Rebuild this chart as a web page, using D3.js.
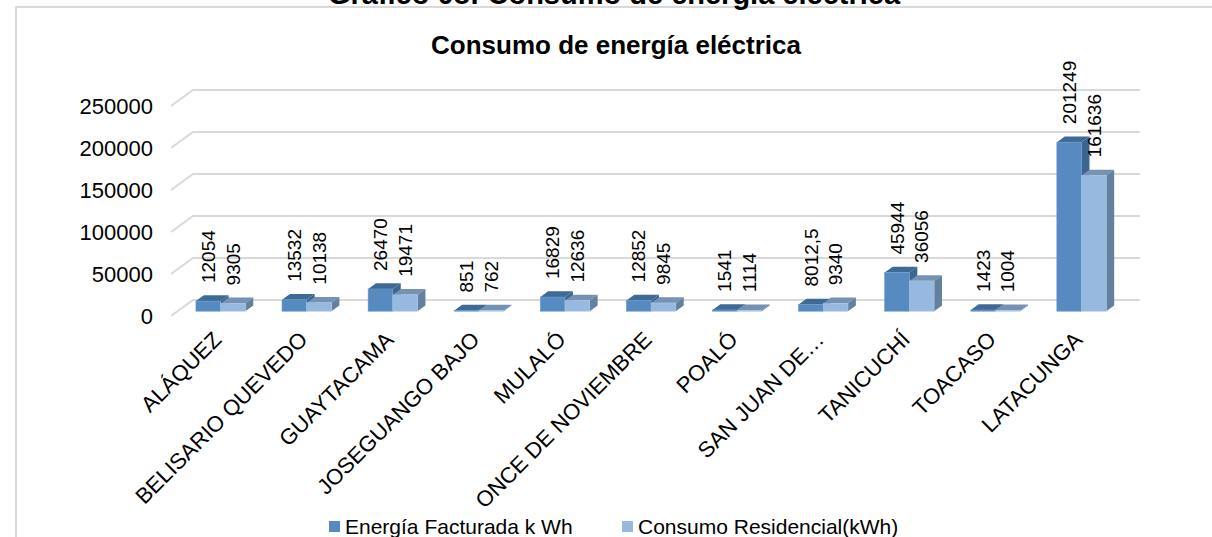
<!DOCTYPE html>
<html>
<head>
<meta charset="utf-8">
<script src="https://cdn.jsdelivr.net/npm/d3@7/dist/d3.min.js"></script>
<style>
  html, body { margin: 0; padding: 0; background: #fff; }
  svg { display: block; font-family: "Liberation Sans", Arial, sans-serif; }
</style>
</head>
<body>
<svg id="chart" width="1212" height="537"></svg>
<script>
// Parroquias del cantón and their electricity figures
const categories = [
  "ALÁQUEZ", "BELISARIO QUEVEDO", "GUAYTACAMA", "JOSEGUANGO BAJO", "MULALÓ",
  "ONCE DE NOVIEMBRE", "POALÓ", "SAN JUAN DE…", "TANICUCHÍ", "TOACASO", "LATACUNGA"
];
const energiaFacturada = [12054, 13532, 26470, 851, 16829, 12852, 1541, 8012.5, 45944, 1423, 201249];
const consumoResidencial = [9305, 10138, 19471, 762, 12636, 9845, 1114, 9340, 36056, 1004, 161636];
const yTicks = [0, 50000, 100000, 150000, 200000, 250000];
const seriesNames = ["Energía Facturada k Wh", "Consumo Residencial(kWh)"];

const svg = d3.select("#chart");
const W = 1212, H = 537;

svg.append("rect").attr("width", W).attr("height", H).attr("fill", "#fff");

// Outer chart frame (continues past the right and bottom edges)
svg.append("rect")
  .attr("x", 16).attr("y", 7).attr("width", W + 20).attr("height", H + 20)
  .attr("fill", "none").attr("stroke", "#d9d9d9").attr("stroke-width", 2);

// Document caption sitting above the frame
svg.append("text")
  .attr("x", 614).attr("y", 4)
  .attr("text-anchor", "middle")
  .attr("font-size", 29).attr("font-weight", "bold").attr("fill", "#000")
  .text("Gráfico 08: Consumo de energía eléctrica");

// Chart title
svg.append("text")
  .attr("x", 616).attr("y", 54)
  .attr("text-anchor", "middle")
  .attr("font-size", 26).attr("font-weight", "bold").attr("fill", "#000")
  .text("Consumo de energía eléctrica");

// Back wall geometry and oblique depth projection
const wallLeft = 193, wallRight = 1140;
const y = d3.scaleLinear().domain([0, 250000]).range([300, 90]);
const x = d3.scaleBand().domain(categories).range([wallLeft, wallRight]);
const depth = { dx: -22, dy: 16 };           // back wall -> front edge of floor
const dFront = 0.70, dBack = 0.34;            // bar front / back planes
const proj = (px, py, d) => [px + depth.dx * d, py + depth.dy * d];

// Gridlines on the back wall with their slanted side-wall segments
const grid = svg.append("g");
yTicks.forEach(t => {
  const yy = y(t);
  const [fx, fy] = proj(wallLeft, yy, 1);
  grid.append("path")
    .attr("d", `M${fx},${fy}L${wallLeft},${yy}L${wallRight},${yy}`)
    .attr("fill", "none").attr("stroke", "#d9d9d9").attr("stroke-width", 2);
  grid.append("text")
    .attr("x", 153).attr("y", fy)
    .attr("dy", "0.35em")
    .attr("text-anchor", "end")
    .attr("font-size", 22).attr("fill", "#000")
    .text(d3.format("d")(t));
});

// Bars
const barW = 24.7;
const pad = (x.bandwidth() - 2 * barW) / 2;
const palette = [
  { front: "#568ac0", top: "#3f6a96", side: "#3c6590", edge: "#6b9acb" },
  { front: "#98b9df", top: "#7592b4", side: "#64809f", edge: "#aac6e6" }
];
const series = [energiaFacturada, consumoResidencial];
const fmt = v => String(v).replace(".", ",");

const bars = svg.append("g");
const labels = svg.append("g");
categories.forEach((cat, i) => {
  series.forEach((vals, s) => {
    const v = vals[i];
    const x0 = x(cat) + pad + s * barW, x1 = x0 + barW;
    const yTop = y(v), yBase = y(0);
    const c = palette[s];
    const [fx0, fyT] = proj(x0, yTop, dFront);
    const [fx1] = proj(x1, yTop, dFront);
    const [, fyB] = proj(x0, yBase, dFront);
    const [bx0, byT] = proj(x0, yTop, dBack);
    const [bx1] = proj(x1, yTop, dBack);
    const [, byB] = proj(x1, yBase, dBack);
    // top face
    bars.append("path")
      .attr("d", `M${fx0},${fyT}L${bx0},${byT}L${bx1},${byT}L${fx1},${fyT}Z`)
      .attr("fill", c.top);
    // right side face
    bars.append("path")
      .attr("d", `M${fx1},${fyT}L${bx1},${byT}L${bx1},${byB}L${fx1},${fyB}Z`)
      .attr("fill", c.side);
    // front face
    bars.append("rect")
      .attr("x", fx0).attr("y", fyT)
      .attr("width", barW).attr("height", fyB - fyT)
      .attr("fill", c.front).attr("stroke", c.edge).attr("stroke-width", 0.6);
    // value label
    const lx = fx0 + barW / 2, ly = fyT - 18;
    labels.append("text")
      .attr("transform", `translate(${lx},${ly}) rotate(-90)`)
      .attr("dy", "0.35em")
      .attr("font-size", 19).attr("fill", "#000")
      .text(fmt(v));
  });
});

// Category labels, slanted
const catG = svg.append("g");
categories.forEach(cat => {
  const [cx] = proj(x(cat) + x.bandwidth() / 2, y(0), dFront);
  catG.append("text")
    .attr("transform", `translate(${cx + 2},${341}) rotate(-45)`)
    .attr("text-anchor", "end")
    .attr("font-size", 22).attr("fill", "#000")
    .text(cat);
});

// Legend
const legend = svg.append("g");
const legendItems = [
  { name: seriesNames[0], x: 329, color: palette[0].front },
  { name: seriesNames[1], x: 622, color: palette[1].front }
];
legendItems.forEach(d => {
  legend.append("rect")
    .attr("x", d.x).attr("y", 521).attr("width", 11).attr("height", 11)
    .attr("fill", d.color);
  legend.append("text")
    .attr("x", d.x + 16).attr("y", 527)
    .attr("dy", "0.35em")
    .attr("font-size", 21).attr("fill", "#000")
    .text(d.name);
});
</script>
</body>
</html>
